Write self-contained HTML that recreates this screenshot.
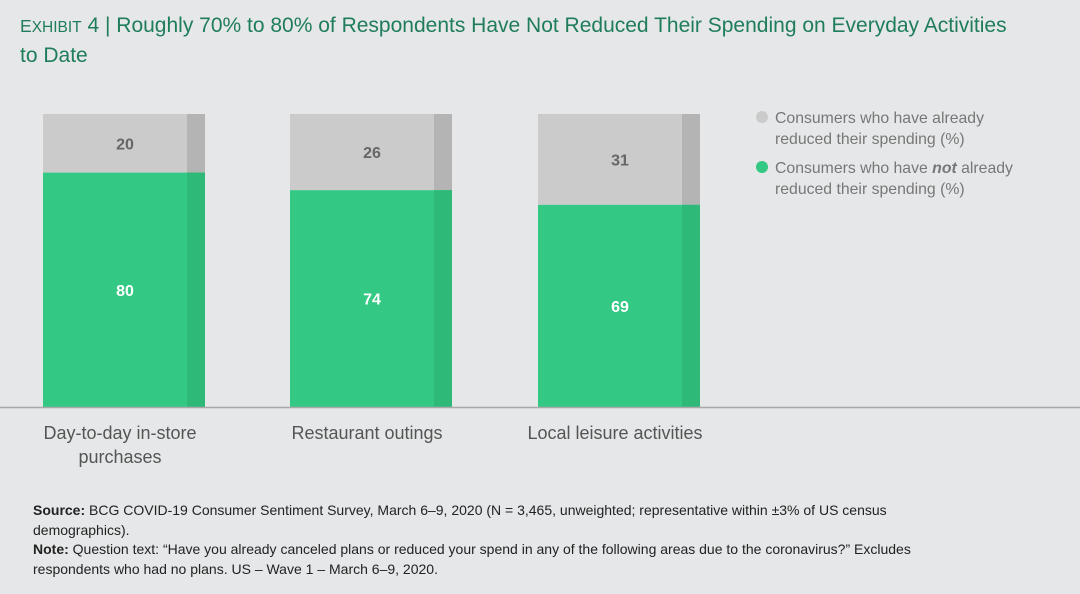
<!DOCTYPE html>
<html><head><meta charset="utf-8"><style>
body{margin:0;width:1080px;height:594px;background:#e6e7e8;font-family:"Liberation Sans",sans-serif;overflow:hidden;position:relative}
#title{position:absolute;left:20px;top:12px;width:1060px;font-size:21px;line-height:28px;color:#1f7d5c;white-space:nowrap}
#notes{position:absolute;left:33px;top:501px;width:945px;font-size:14px;line-height:19.5px;color:#222}
</style></head><body>
<div id="title"><span style="font-size:17.5px">E</span><span style="font-size:15.5px">XHIBIT</span> 4 | Roughly 70% to 80% of Respondents Have Not Reduced Their Spending on Everyday Activities<br>to Date</div>
<svg id="chart" width="1080" height="500" style="position:absolute;left:0;top:0"></svg>
<div id="notes"><b>Source:</b> BCG COVID-19 Consumer Sentiment Survey, March 6–9, 2020 (N = 3,465, unweighted; representative within ±3% of US census demographics).<br><b>Note:</b> Question text: “Have you already canceled plans or reduced your spend in any of the following areas due to the coronavirus?” Excludes respondents who had no plans. US – Wave 1 – March 6–9, 2020.</div>
<script>
const categories=[["Day-to-day in-store","purchases"],["Restaurant outings"],["Local leisure activities"]];
const notReduced=[80,74,69];
const reduced=[20,26,31];
const NS="http://www.w3.org/2000/svg";
const svg=document.getElementById('chart');
const base=407,top0=114,barW=162,stripW=18;
const xStart=[43,290,538];
function y(v){return base-(v/100)*(base-top0);}
function mk(t,a){const e=document.createElementNS(NS,t);for(const k in a)e.setAttribute(k,a[k]);svg.appendChild(e);return e;}
categories.forEach((c,i)=>{
  const x=xStart[i];const g=notReduced[i],r=reduced[i];
  let e=mk('rect',{x:x,y:y(g+r),width:barW,height:y(g)-y(g+r),fill:'#cbcbcb'});
  
  e=mk('rect',{x:x+barW-stripW,y:y(g+r),width:stripW,height:y(g)-y(g+r),fill:'#b4b4b4'});
  
  e=mk('rect',{x:x,y:y(g),width:barW,height:base-y(g),fill:'#33c883'});
  
  e=mk('rect',{x:x+barW-stripW,y:y(g),width:stripW,height:base-y(g),fill:'#2fb978'});
  
  const cx=x+82;
  e=mk('text',{x:cx,y:(y(g)+y(g+r))/2+6,'text-anchor':'middle','font-size':16,'font-weight':'bold',fill:'#666'});e.textContent=r;
  
  e=mk('text',{x:cx,y:(y(g)+base)/2+6,'text-anchor':'middle','font-size':16,'font-weight':'bold',fill:'#fff'});e.textContent=g;
  
  c.forEach((ln,j)=>{e=mk('text',{x:x+77,y:439+j*24,'text-anchor':'middle','font-size':18,fill:'#555'});e.textContent=ln;
  });
});
let ax=mk('line',{x1:0,x2:1080,y1:407.5,y2:407.5,stroke:'#a8a8a8','stroke-width':1.5});

const leg=[[117,'#cbcbcb',['Consumers who have already','reduced their spending (%)']],[167,'#33c883',['Consumers who have <tspan font-weight="bold" font-style="italic">not</tspan> already','reduced their spending (%)']]];
leg.forEach(l=>{
  let c=mk('circle',{cx:762,cy:l[0],r:6,fill:l[1]});
  
  l[2].forEach((t,j)=>{let e=mk('text',{x:775,y:l[0]+6+j*21,'font-size':15.8,fill:'#777'});e.innerHTML=t;
  });
});
</script>
</body></html>
